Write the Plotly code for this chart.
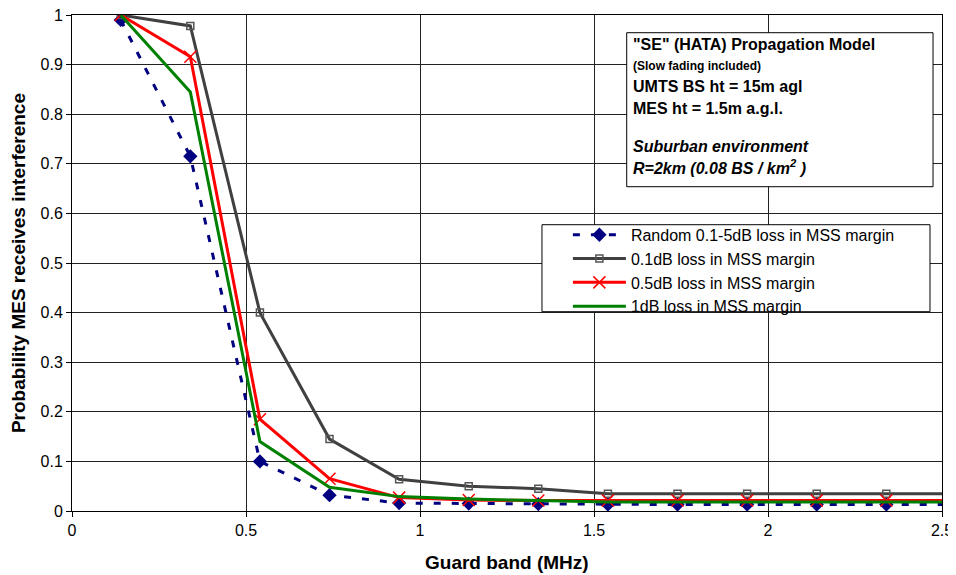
import plotly.graph_objects as go

# Data
guard_band = [0.14, 0.34, 0.54, 0.74, 0.94, 1.14, 1.34, 1.54, 1.74, 1.94, 2.14, 2.34, 2.54]
random_loss = [0.99, 0.715, 0.10, 0.032, 0.016, 0.015, 0.014, 0.013, 0.013, 0.013, 0.013, 0.013, 0.013]
loss_01db = [1.0, 0.978, 0.40, 0.145, 0.064, 0.050, 0.045, 0.035, 0.035, 0.035, 0.035, 0.035, 0.035]
loss_05db = [1.0, 0.916, 0.185, 0.065, 0.027, 0.022, 0.021, 0.021, 0.021, 0.021, 0.021, 0.021, 0.021]
loss_1db = [1.0, 0.845, 0.14, 0.048, 0.029, 0.024, 0.021, 0.018, 0.018, 0.018, 0.018, 0.018, 0.018]

series_names = [
    "Random 0.1-5dB loss in MSS margin",
    "0.1dB loss in MSS margin",
    "0.5dB loss in MSS margin",
    "1dB loss in MSS margin",
]

x_ticks = [0, 0.5, 1, 1.5, 2, 2.5]
x_tick_labels = ["0", "0.5", "1", "1.5", "2", "2.5"]
y_ticks = [0, 0.1, 0.2, 0.3, 0.4, 0.5, 0.6, 0.7, 0.8, 0.9, 1]
y_tick_labels = ["0", "0.1", "0.2", "0.3", "0.4", "0.5", "0.6", "0.7", "0.8", "0.9", "1"]

x_title = "Guard band (MHz)"
y_title = "Probability MES receives interference"

info_lines = [
    ('"SE" (HATA) Propagation Model', 16, False),
    ("(Slow fading included)", 12, False),
    ("UMTS BS ht = 15m agl", 16, False),
    ("MES ht = 1.5m a.g.l.", 16, False),
    ("Suburban environment", 16, True),
    ("R=2km (0.08 BS / km<sup>2</sup> )", 16, True),
]
info_y = [0.9415, 0.8978, 0.8554, 0.8125, 0.7339, 0.6942]

FONT = "Liberation Sans, Arial, sans-serif"

fig = go.Figure()

fig.add_trace(go.Scatter(
    x=guard_band, y=random_loss, name=series_names[0], mode="lines+markers",
    line=dict(color="#000080", width=3, dash="7px,11px"),
    marker=dict(symbol="diamond", size=11, color="#000080"),
))
fig.add_trace(go.Scatter(
    x=guard_band, y=loss_01db, name=series_names[1], mode="lines+markers",
    line=dict(color="#404040", width=3),
    marker=dict(symbol="square-open", size=7, color="#555555", line=dict(width=1.5)),
))
fig.add_trace(go.Scatter(
    x=guard_band, y=loss_05db, name=series_names[2], mode="lines+markers",
    line=dict(color="#FF0000", width=3),
    marker=dict(symbol="x-thin", size=12, color="#FF0000", line=dict(width=1.5, color="#FF0000")),
))
fig.add_trace(go.Scatter(
    x=guard_band, y=loss_1db, name=series_names[3], mode="lines",
    line=dict(color="#008000", width=3),
))

# Info box
fig.add_shape(type="rect", xref="paper", yref="paper",
              x0=0.6376, x1=0.9897, y0=0.6538, y1=0.9643,
              line=dict(color="black", width=1), fillcolor="white", layer="above")
for (txt, size, ital), yy in zip(info_lines, info_y):
    t = f"<b>{txt}</b>"
    if ital:
        t = f"<i>{t}</i>"
    fig.add_annotation(xref="paper", yref="paper", x=0.6425, y=yy,
                       xanchor="left", yanchor="middle", text=t, showarrow=False,
                       font=dict(family=FONT, size=size, color="black"))

# Legend frame
fig.add_shape(type="rect", xref="paper", yref="paper",
              x0=0.5402, x1=0.9862, y0=0.4018, y1=0.5772,
              line=dict(color="black", width=1), fillcolor="white", layer="above")

# Axis titles
fig.add_annotation(xref="paper", yref="paper", x=0.5, y=-0.1048,
                   xanchor="center", yanchor="middle", showarrow=False,
                   text=f"<b>{x_title}</b>", font=dict(family=FONT, size=19, color="black"))
fig.add_annotation(xref="paper", yref="paper", x=-0.062, y=0.5,
                   xanchor="center", yanchor="middle", showarrow=False, textangle=-90,
                   text=f"<b>{y_title}</b>", font=dict(family=FONT, size=19, color="black"))

# page body has an 8px margin, so the figure is 8px smaller than the window
fig.update_layout(
    width=948, height=567,
    margin=dict(l=64, r=14, t=7, b=64, autoexpand=False),
    paper_bgcolor="white", plot_bgcolor="white",
    font=dict(family=FONT, size=16, color="black"),
    showlegend=True,
    legend=dict(x=0.570, y=0.591, xanchor="left", yanchor="top",
                borderwidth=0, bgcolor="rgba(0,0,0,0)", itemwidth=53,
                font=dict(family=FONT, size=16), tracegroupgap=0),
)

fig.update_xaxes(
    range=[0, 2.5], tickvals=x_ticks, ticktext=x_tick_labels, automargin=False,
    ticklabeloverflow="allow",
    showgrid=True, gridcolor="#222222", gridwidth=1,
    showline=True, linecolor="black", linewidth=1, mirror=True,
    ticks="outside", ticklen=5, tickcolor="black",
    zeroline=False,
)
fig.update_yaxes(
    range=[0, 1], tickvals=y_ticks, ticktext=y_tick_labels, automargin=False,
    ticklabeloverflow="allow",
    showgrid=True, gridcolor="#222222", gridwidth=1,
    showline=True, linecolor="black", linewidth=1, mirror=True,
    ticks="outside", ticklen=5, tickcolor="black",
    zeroline=False,
)

fig.write_html("out.html")
